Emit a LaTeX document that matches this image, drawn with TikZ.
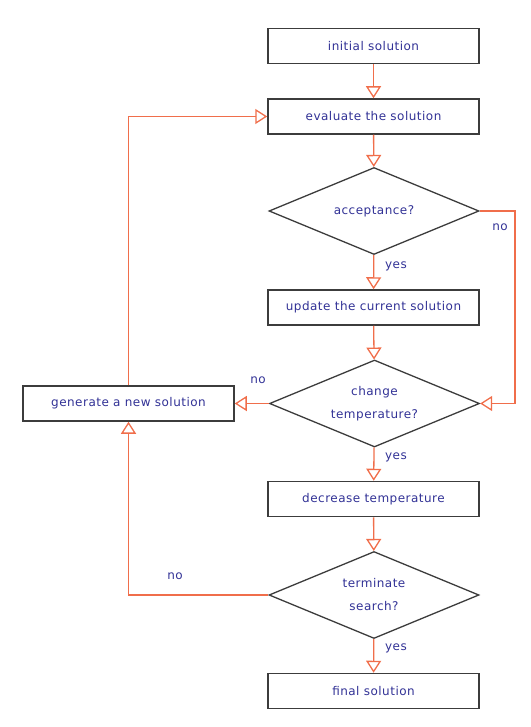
\documentclass[tikz,border=0pt]{standalone}
\usepackage{fontspec}
\setmainfont{DejaVu Sans}
\newfontfamily\flowfont{DejaVu Sans}[LetterSpace=4]
\usetikzlibrary{shapes.geometric,arrows.meta}
\definecolor{flowline}{RGB}{240,110,75}
\definecolor{flowtext}{RGB}{50,50,150}
\definecolor{flowborder}{RGB}{60,60,60}
\begin{document}
\begin{tikzpicture}[x=1pt,y=-1pt,
  txt/.style={text=flowtext,font=\flowfont\fontsize{12}{16}\selectfont},
  stepbox/.style={txt,draw=flowborder,line width=1.5pt,fill=white,
    minimum width=211pt,minimum height=35pt,inner sep=0pt},
  decision/.style={txt,diamond,draw=flowborder,line width=1.3pt,fill=white,
    minimum width=210pt,minimum height=87pt,inner sep=0pt,aspect=2.4,align=center,
    font=\flowfont\fontsize{12}{23}\selectfont},
  flow/.style={draw=flowline,line width=1.3pt,
    -{Triangle[open,length=12pt,width=15pt,line width=1.3pt]}},
  lbl/.style={txt}]
\useasboundingbox (0,0) rectangle (530,727);

% main column
\node[stepbox]  (init) at (373.5,46)    {initial solution};
\node[stepbox]  (eval) at (373.5,116.5) {evaluate the solution};
\node[decision] (acc)  at (374,211)     {acceptance?};
\node[stepbox]  (upd)  at (373.5,307.5) {update the current solution};
\node[decision] (chg)  at (374.5,403.5) {change\\temperature?};
\node[stepbox]  (gen)  at (128.5,403.5) {generate a new solution};
\node[stepbox]  (dec)  at (373.5,499)   {decrease temperature};
\node[decision] (term) at (374,595)     {terminate\\search?};
\node[stepbox]  (fin)  at (373.5,691)   {final solution};

% straight downward flow
\draw[flow] (init) -- (eval);
\draw[flow] (eval) -- (acc);
\draw[flow] (acc) -- (upd);
\draw[flow] (upd) -- (chg);
\draw[flow] (chg) -- (dec);
\draw[flow] (dec) -- (term);
\draw[flow] (term) -- (fin);

% loops
\coordinate (accR) at (515,211);
\draw[flow] (acc.east) -- (accR) |- (chg.east);
\draw[flow] (chg.west) -- (gen.east);
\draw[flow] (gen.north) |- (eval.west);
\draw[flow] (term.west) -| (gen.south);

% branch labels
\node[lbl] (y1) at (396,266) {yes};
\node[lbl] (y2) at (396,457) {yes};
\node[lbl] (y3) at (396,648) {yes};
\node[lbl] (n1) at (500,227) {no};
\node[lbl] (n2) at (258,380) {no};
\node[lbl] (n3) at (175,576) {no};
\end{tikzpicture}
\end{document}
